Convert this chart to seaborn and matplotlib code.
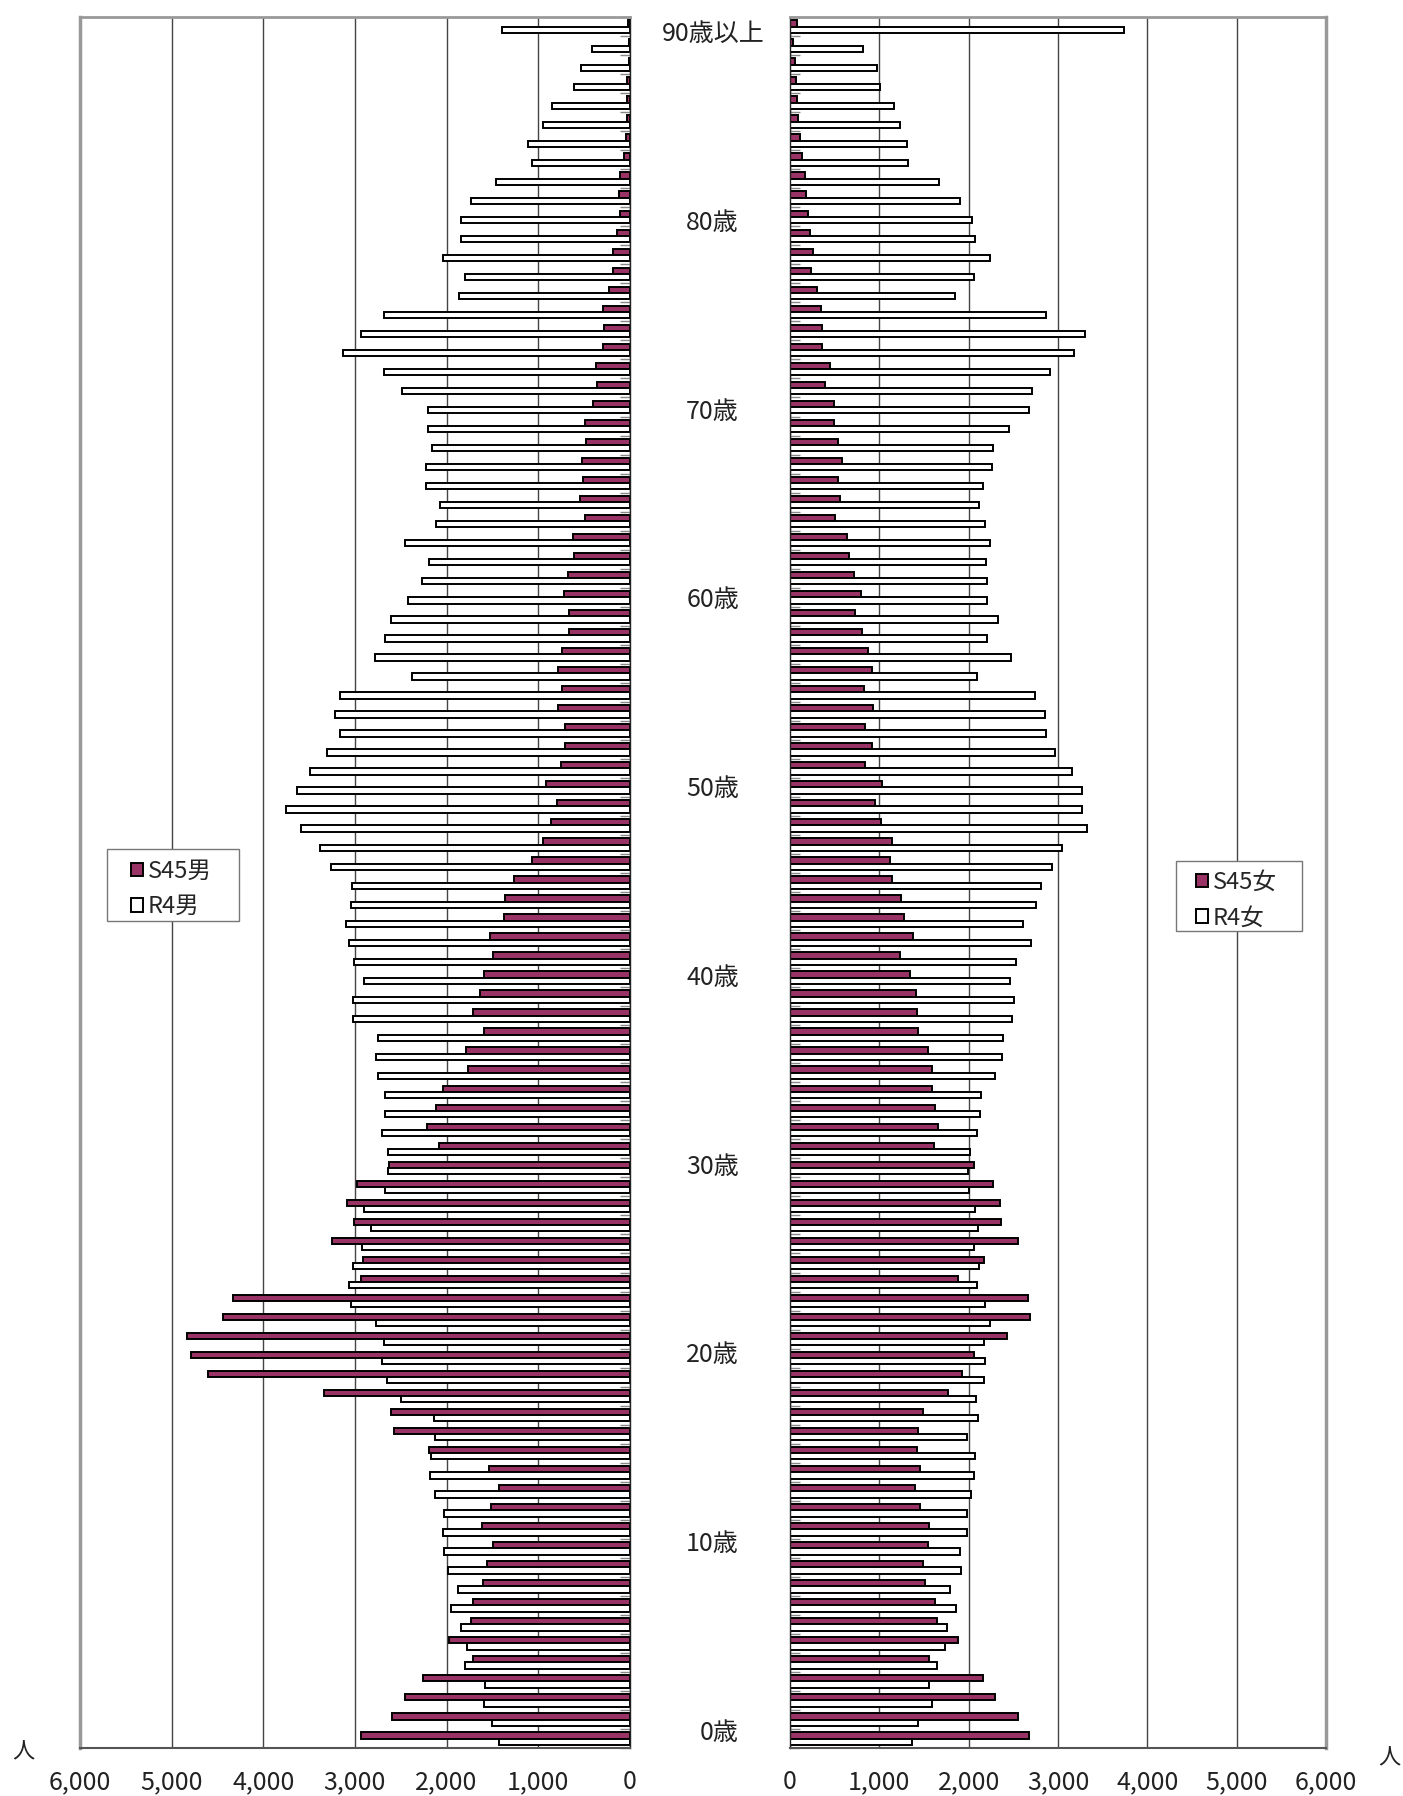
import numpy as np
import pandas as pd
import matplotlib
matplotlib.use('Agg')
import matplotlib.pyplot as plt
from matplotlib.patches import Patch, Rectangle
import seaborn as sns

# 年齢 0..89, 90歳以上
ages = [str(a) for a in range(90)] + ['90+']

# 男 (0歳 -> 90歳以上)
s45_male = [2938, 2592, 2455, 2254, 1714, 1972, 1734, 1714, 1598, 1557,
            1489, 1610, 1521, 1425, 1541, 2193, 2571, 2612, 3340, 4600,
            4793, 4829, 4439, 4326, 2930, 2913, 3247, 3010, 3082, 2978,
            2624, 2085, 2209, 2121, 2040, 1771, 1791, 1590, 1714, 1638,
            1590, 1497, 1529, 1376, 1368, 1268, 1074, 946, 865, 801,
            918, 753, 708, 712, 785, 740, 785, 740, 664, 664,
            720, 672, 608, 616, 487, 543, 511, 527, 483, 491,
            402, 358, 374, 294, 278, 298, 225, 181, 185, 145,
            105, 121, 105, 64, 48, 36, 28, 32, 12, 12,
            20]
r4_male = [1433, 1509, 1590, 1581, 1803, 1775, 1843, 1952, 1875, 1984,
           2028, 2040, 2032, 2125, 2185, 2169, 2125, 2133, 2495, 2648,
           2704, 2680, 2769, 3042, 3070, 3018, 2922, 2829, 2897, 2672,
           2636, 2644, 2704, 2672, 2676, 2744, 2765, 2752, 3018, 3018,
           2901, 3014, 3070, 3099, 3046, 3034, 3264, 3380, 3590, 3755,
           3630, 3493, 3308, 3167, 3219, 3167, 2382, 2781, 2668, 2604,
           2423, 2270, 2197, 2455, 2121, 2076, 2221, 2221, 2157, 2205,
           2205, 2483, 2680, 3131, 2938, 2680, 1863, 1803, 2036, 1843,
           1839, 1730, 1465, 1070, 1107, 946, 849, 612, 531, 410,
           1400]

# 女 (0歳 -> 90歳以上)
s45_female = [2672, 2552, 2292, 2156, 1560, 1884, 1648, 1624, 1512, 1484,
              1540, 1560, 1456, 1400, 1460, 1424, 1428, 1488, 1768, 1928,
              2056, 2432, 2692, 2664, 1884, 2172, 2552, 2360, 2356, 2276,
              2056, 1616, 1660, 1620, 1588, 1592, 1540, 1436, 1424, 1412,
              1348, 1232, 1372, 1280, 1240, 1136, 1116, 1136, 1016, 956,
              1028, 844, 920, 844, 932, 832, 920, 868, 808, 732,
              800, 716, 660, 636, 508, 556, 536, 580, 540, 496,
              488, 396, 452, 356, 356, 344, 304, 236, 260, 220,
              196, 180, 172, 132, 112, 92, 80, 68, 60, 36,
              80]
r4_female = [1368, 1436, 1592, 1560, 1648, 1740, 1760, 1856, 1796, 1912,
             1904, 1984, 1976, 2024, 2064, 2072, 1984, 2108, 2084, 2168,
             2184, 2176, 2240, 2188, 2088, 2112, 2064, 2108, 2072, 2008,
             1988, 2016, 2092, 2124, 2136, 2300, 2376, 2384, 2484, 2508,
             2468, 2532, 2696, 2612, 2756, 2812, 2928, 3044, 3328, 3272,
             3272, 3156, 2968, 2868, 2852, 2740, 2096, 2476, 2204, 2328,
             2204, 2204, 2196, 2244, 2180, 2116, 2164, 2260, 2276, 2452,
             2672, 2704, 2912, 3176, 3304, 2868, 1852, 2056, 2244, 2068,
             2036, 1900, 1668, 1316, 1304, 1228, 1168, 1008, 972, 816,
             3744]

age_marks = ['0歳', '10歳', '20歳', '30歳', '40歳', '50歳', '60歳', '70歳', '80歳', '90歳以上']
age_mark_pos = [0, 10, 20, 30, 40, 50, 60, 70, 80, 90]
x_ticks = [0, 1000, 2000, 3000, 4000, 5000, 6000]
x_tick_labels = ['0', '1,000', '2,000', '3,000', '4,000', '5,000', '6,000']

PLUM = '#993366'
order = ages[::-1]          # 上が90歳以上
W, H = 1403, 1796

sns.set_style('white')
plt.rcParams['font.family'] = ['Noto Sans CJK JP', 'DejaVu Sans']

fig = plt.figure(figsize=(14.03, 17.96), dpi=100)
ax_l = fig.add_axes([0.0570, 0.0267, 0.3920, 0.9638])
ax_r = fig.add_axes([0.5631, 0.0267, 0.3820, 0.9638])


def draw_side(ax, s45, r4, names, left_side):
    df = pd.DataFrame({'age': ages * 2,
                       'series': [names[0]] * len(ages) + [names[1]] * len(ages),
                       'value': s45 + r4})
    sns.barplot(data=df, x='value', y='age', hue='series', order=order,
                hue_order=names, palette={names[0]: PLUM, names[1]: 'white'},
                saturation=1, width=0.66, edgecolor='black', linewidth=1.4,
                orient='h', legend=False, ax=ax)
    ax.set_xlabel('')
    ax.set_ylabel('')
    ax.set_ylim(90.5, -0.45)
    if left_side:
        ax.set_xlim(6000, 0)
    else:
        ax.set_xlim(0, 6000)
    ax.set_xticks(x_ticks)
    ax.set_xticklabels(x_tick_labels, fontsize=18, color='#222222')
    ax.tick_params(axis='x', length=0, pad=15)
    ax.xaxis.grid(True, color='#444444', linewidth=1.0)
    ax.set_axisbelow(True)

    # 年齢区切りの小さい目盛
    ax.set_yticks([])
    ax.set_yticks(np.arange(-0.5, 91, 1), minor=True)
    ax.tick_params(axis='y', which='minor', direction='in', length=7, width=1,
                   color='#888888', left=not left_side, right=left_side)

    outer = 'left' if left_side else 'right'
    inner = 'right' if left_side else 'left'
    ax.spines[outer].set_color('#999999')
    ax.spines[outer].set_linewidth(2.5)
    ax.spines['top'].set_color('#999999')
    ax.spines['top'].set_linewidth(2)
    ax.spines['bottom'].set_color('#555555')
    ax.spines['bottom'].set_linewidth(1.5)
    ax.spines[inner].set_color('#222222')
    ax.spines[inner].set_linewidth(1)

    handles = [Patch(facecolor=PLUM, edgecolor='black', linewidth=1.4, label=names[0]),
               Patch(facecolor='white', edgecolor='black', linewidth=1.4, label=names[1])]
    return handles


h_m = draw_side(ax_l, s45_male, r4_male, ['S45男', 'R4男'], True)
h_f = draw_side(ax_r, s45_female, r4_female, ['S45女', 'R4女'], False)


def add_legend(ax, handles, box, anchor):
    # 凡例の枠 (figure pixel座標 -> 比率)
    x0, y0, x1, y1 = box
    frame = Rectangle((x0 / W, 1 - y1 / H), (x1 - x0) / W, (y1 - y0) / H,
                      transform=fig.transFigure, facecolor='white',
                      edgecolor='#777777', linewidth=1, zorder=4, clip_on=False)
    ax.add_patch(frame)
    leg = ax.legend(handles=handles, loc='upper left',
                    bbox_to_anchor=(anchor[0] / W, 1 - anchor[1] / H),
                    bbox_transform=fig.transFigure, fontsize=17, frameon=False,
                    handlelength=0.5, handleheight=0.5, handletextpad=0.2,
                    labelspacing=0.52, borderpad=0, borderaxespad=0)
    leg.set_zorder(6)
    return leg


add_legend(ax_l, h_m, (107, 849, 239, 921), (131, 860))
add_legend(ax_r, h_f, (1176, 861, 1302, 931), (1196, 871))

# 中央の年齢ラベル (0歳 y=1733px, 90歳以上 y=34px の等間隔)
for lab, a in zip(age_marks, age_mark_pos):
    x = 0.5453 if a == 90 else 0.5267
    y_px = 1733 - a * (1733 - 34) / 90
    fig.text(x, 1 - y_px / H, lab, ha='right', va='center',
             fontsize=18, color='#222222')

fig.text(23 / W, 1 - 1752 / H, '人', ha='center', va='center', fontsize=16, color='#222222')
fig.text(1389 / W, 1 - 1758 / H, '人', ha='center', va='center', fontsize=16, color='#222222')

fig.savefig('out.png', dpi=100)
